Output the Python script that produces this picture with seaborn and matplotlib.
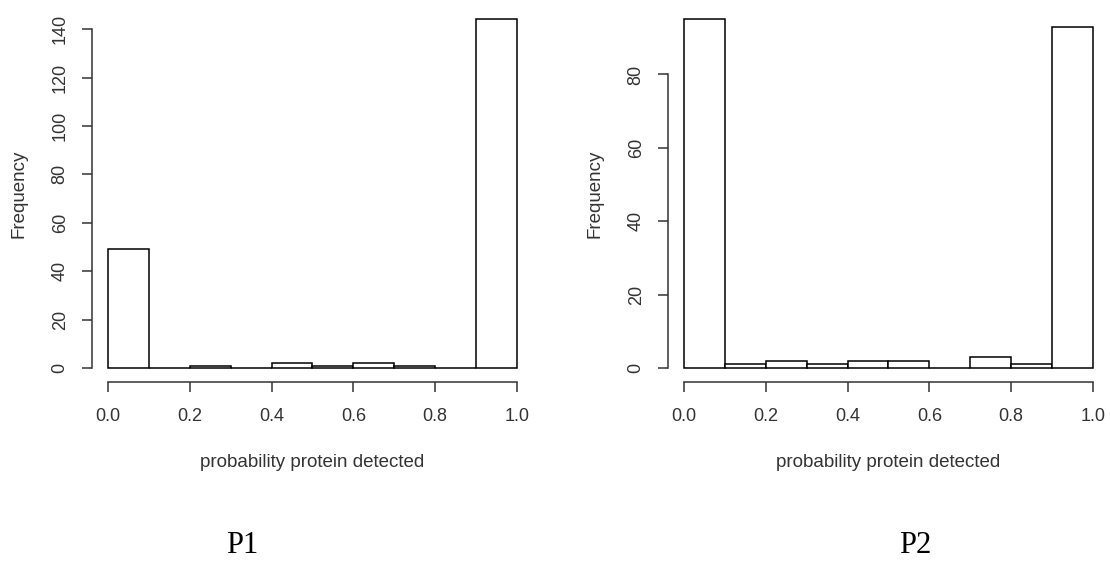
import numpy as np
import pandas as pd
import matplotlib
matplotlib.use("Agg")
import matplotlib.pyplot as plt
import seaborn as sns

# histogram counts, 10 bins of width 0.1
bin_edges = [0.0, 0.1, 0.2, 0.3, 0.4, 0.5, 0.6, 0.7, 0.8, 0.9, 1.0]
p1_counts = [49, 0, 1, 0, 2, 1, 2, 1, 0, 144]
p2_counts = [95, 1, 2, 1, 2, 2, 0, 3, 1, 93]
panel_names = ["P1", "P2"]
x_ticks = [0.0, 0.2, 0.4, 0.6, 0.8, 1.0]
x_tick_labels = ["0.0", "0.2", "0.4", "0.6", "0.8", "1.0"]
p1_yticks = [0, 20, 40, 60, 80, 100, 120, 140]
p2_yticks = [0, 20, 40, 60, 80]

sns.set_style("white")
plt.rcParams['font.family'] = ['Liberation Sans', 'DejaVu Sans']

ink = "#333333"
fig = plt.figure(figsize=(11.1, 5.61), dpi=100)

panels = [
    (p1_counts, p1_yticks, 0.0825, 242),
    (p2_counts, p2_yticks, 0.6014, 915),
]

centers = [(bin_edges[i] + bin_edges[i + 1]) / 2 for i in range(len(bin_edges) - 1)]

for (counts, yticks, left, name_x), name in zip(panels, panel_names):
    ax = fig.add_axes([left, 0.319, 0.398, 0.6713])
    df = pd.DataFrame({'prob': centers, 'n': counts})
    sns.histplot(data=df, x='prob', weights='n', bins=bin_edges, ax=ax,
                 color='white', edgecolor='black', linewidth=1.1, alpha=1)

    top = max(counts)
    ax.set_xlim(-0.04, 1.04)
    ax.set_ylim(-0.04 * top, 1.04 * top)

    for s in ['top', 'right']:
        ax.spines[s].set_visible(False)
    for s in ['left', 'bottom']:
        ax.spines[s].set_color(ink)
        ax.spines[s].set_linewidth(1.1)
    ax.spines['bottom'].set_bounds(0, 1)
    ax.spines['left'].set_bounds(0, yticks[-1])

    ax.set_xticks(x_ticks)
    ax.set_xticklabels(x_tick_labels)
    ax.set_yticks(yticks)
    ax.tick_params(axis='both', direction='out', length=7.5, width=1.1,
                   color=ink, labelcolor=ink, labelsize=13, pad=11,
                   bottom=True, left=True)
    ax.tick_params(axis='y', labelrotation=90, pad=9)
    for lab in ax.get_yticklabels():
        lab.set_verticalalignment('center')

    ax.set_xlabel('probability protein detected', fontsize=13.5, color=ink)
    ax.set_ylabel('Frequency', fontsize=13.5, color=ink)
    ax.xaxis.set_label_coords(0.5, -0.2124)
    ax.xaxis.label.set_verticalalignment('center')
    ax.yaxis.set_label_coords(-0.165, 0.5)
    ax.yaxis.label.set_verticalalignment('center')

    fig.text(name_x / 1110, 1 - 553 / 561, name, ha='center', va='baseline',
             fontsize=22, family=['Liberation Serif', 'DejaVu Serif'], color='black')

fig.savefig('out.png', dpi=100)
